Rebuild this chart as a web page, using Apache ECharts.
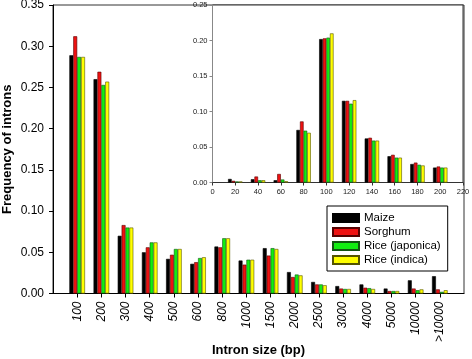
<!DOCTYPE html>
<html>
<head>
<meta charset="utf-8">
<script src="https://cdn.jsdelivr.net/npm/echarts@6/dist/echarts.min.js"></script>
<style>
  html, body { margin: 0; padding: 0; background: #fff; }
  #chart { width: 472px; height: 359px; }
</style>
</head>
<body>
<div id="chart"></div>
<script>
// main chart: intron size classes
const sizeLabels = ['100', '200', '300', '400', '500', '600', '800', '1000', '1500', '2000', '2500', '3000', '4000', '5000', '10000', '>10000'];
const maize = [0.289, 0.260, 0.070, 0.050, 0.042, 0.036, 0.057, 0.040, 0.055, 0.026, 0.014, 0.009, 0.011, 0.006, 0.016, 0.021];
const sorghum = [0.312, 0.269, 0.083, 0.056, 0.047, 0.038, 0.056, 0.035, 0.046, 0.020, 0.011, 0.006, 0.007, 0.003, 0.006, 0.005];
const japonica = [0.287, 0.253, 0.080, 0.062, 0.054, 0.043, 0.067, 0.041, 0.055, 0.023, 0.011, 0.0055, 0.0065, 0.003, 0.004, 0.002];
const indica = [0.287, 0.257, 0.080, 0.062, 0.054, 0.044, 0.067, 0.041, 0.054, 0.022, 0.010, 0.0055, 0.0055, 0.003, 0.005, 0.004];

// inset: 0-220 bp
const insetTicks = ['0', '20', '40', '60', '80', '100', '120', '140', '160', '180', '200', '220'];
const insetMaize = [null, 0.005, 0.0046, 0.0032, 0.074, 0.202, 0.115, 0.062, 0.037, 0.026, 0.021, null];
const insetSorghum = [null, 0.0023, 0.0084, 0.012, 0.086, 0.203, 0.115, 0.063, 0.039, 0.028, 0.0225, null];
const insetJaponica = [null, 0.0014, 0.0032, 0.0042, 0.073, 0.204, 0.111, 0.059, 0.035, 0.025, 0.021, null];
const insetIndica = [null, 0.0014, 0.0032, 0.0018, 0.070, 0.210, 0.116, 0.059, 0.035, 0.024, 0.021, null];

const names = ['Maize', 'Sorghum', 'Rice (japonica)', 'Rice (indica)'];
const colors = ['#000000', '#ee1111', '#11ee11', '#ffff00'];
const borders = ['#000000', '#550000', '#115511', '#555500'];

const font = 'Liberation Sans, Arial, sans-serif';

let chart = echarts.init(document.getElementById('chart'));

// empty slot at each end so the first/last class sits one step in from the frame
function padValues(arr) {
  return [null].concat(arr, [null]);
}
function padLabels(arr) {
  return [''].concat(arr, ['']);
}

function barSeries(i, data, axisIdx, width) {
  return {
    name: names[i],
    type: 'bar',
    xAxisIndex: axisIdx,
    yAxisIndex: axisIdx,
    data: data,
    barWidth: width,
    barGap: '0%',
    itemStyle: { color: colors[i], borderColor: borders[i], borderWidth: 0.6 }
  };
}

let option = {
  animation: false,
  textStyle: { fontFamily: font },
  legend: {
    orient: 'vertical',
    left: 327,
    top: 206,
    itemWidth: 26,
    itemHeight: 8,
    itemGap: 2,
    padding: [6, 7, 5, 5],
    borderColor: '#000',
    borderWidth: 1,
    backgroundColor: '#fff',
    icon: 'rect',
    data: names,
    textStyle: { fontSize: 11.5, color: '#000', fontFamily: font }
  },
  grid: [
    { left: 53, top: 5, right: 8, bottom: 65.5, outerBoundsMode: 'none', containLabel: false, show: true, borderColor: '#333', borderWidth: 1 },
    { left: 212.5, top: 5, right: 9, bottom: 176.5, outerBoundsMode: 'none', containLabel: false, show: true, backgroundColor: '#fff', borderColor: '#333', borderWidth: 1 }
  ],
  xAxis: [
    {
      type: 'category',
      gridIndex: 0,
      boundaryGap: false,
      data: padLabels(sizeLabels),
      name: 'Intron size (bp)',
      nameLocation: 'middle',
      nameGap: 50,
      nameMoveOverlap: false,
      nameTextStyle: { fontSize: 13, fontWeight: 'bold', color: '#000' },
      axisLine: { lineStyle: { color: '#000', width: 1 } },
      axisTick: { length: 4, interval: (i, v) => v !== '', lineStyle: { color: '#000' } },
      axisLabel: {
        interval: 0,
        rotate: 90,
        margin: 8,
        fontSize: 12,
        fontStyle: 'italic',
        color: '#000'
      },
      splitLine: { show: false }
    },
    {
      type: 'category',
      gridIndex: 1,
      boundaryGap: false,
      data: insetTicks,
      axisLine: { lineStyle: { color: '#333', width: 1 } },
      axisTick: { length: 3, lineStyle: { color: '#333' } },
      axisLabel: { interval: 0, margin: 5, fontSize: 7.5, color: '#222' },
      splitLine: { show: false }
    }
  ],
  yAxis: [
    {
      type: 'value',
      gridIndex: 0,
      min: 0,
      max: 0.35,
      interval: 0.05,
      name: 'Frequency of introns',
      nameLocation: 'middle',
      nameGap: 39,
      nameMoveOverlap: false,
      nameTextStyle: { fontSize: 13, fontWeight: 'bold', color: '#000' },
      axisLine: { show: true, lineStyle: { color: '#000', width: 1 } },
      axisTick: { show: true, length: 4, lineStyle: { color: '#000' } },
      axisLabel: { fontSize: 12, margin: 9, color: '#000', formatter: v => v.toFixed(2) },
      splitLine: { show: false }
    },
    {
      type: 'value',
      gridIndex: 1,
      min: 0,
      max: 0.25,
      interval: 0.05,
      axisLine: { show: true, lineStyle: { color: '#888', width: 1 } },
      axisTick: { show: true, length: 3, lineStyle: { color: '#888' } },
      axisLabel: { fontSize: 7.5, margin: 5, color: '#222', formatter: v => v.toFixed(2) },
      splitLine: { show: false }
    }
  ],
  series: [
    barSeries(0, padValues(maize), 0, 3.9),
    barSeries(1, padValues(sorghum), 0, 3.9),
    barSeries(2, padValues(japonica), 0, 3.9),
    barSeries(3, padValues(indica), 0, 3.9),
    barSeries(0, insetMaize, 1, 3.6),
    barSeries(1, insetSorghum, 1, 3.6),
    barSeries(2, insetJaponica, 1, 3.6),
    barSeries(3, insetIndica, 1, 3.6)
  ]
};

chart.setOption(option);
</script>
</body>
</html>
